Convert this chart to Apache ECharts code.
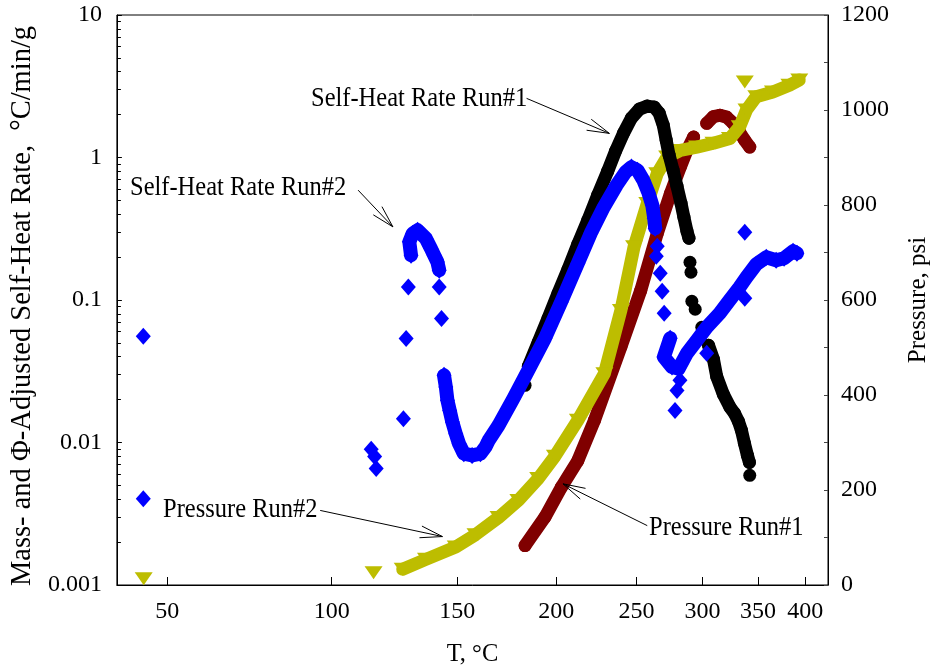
<!DOCTYPE html>
<html>
<head>
<meta charset="utf-8">
<script src="https://cdn.jsdelivr.net/npm/echarts@6/dist/echarts.min.js"></script>
<style>
  html, body { margin: 0; padding: 0; background: #ffffff; }
  #chart { width: 939px; height: 672px; }
</style>
</head>
<body>
<div id="chart"></div>
<script>
// ---- axis ticks ----
const tempTicks = [50, 100, 150, 200, 250, 300, 350, 400];          // °C
const tempRange = [37.25, 427.0];                                    // °C, x-axis extent
const rateDecades = [0.001, 0.01, 0.1, 1, 10];                       // °C/min/g
const pressureTicks = [0, 200, 400, 600, 800, 1000, 1200];           // psi

// ---- Self-Heat Rate Run#1 (black) ----
const shr1RiseT    = [184.7, 190.0, 195.4, 201.0, 206.7, 212.5, 218.5, 224.6, 230.9, 236.0, 241.3, 246.6, 252.1, 257.6, 262.6, 266.2, 269.2, 271.4, 273.6, 276.6, 279.6, 282.7, 285.0, 287.4, 289.0];
const shr1RiseRate = [0.0342, 0.0505, 0.0744, 0.1115, 0.1644, 0.2464, 0.3633, 0.544, 0.802, 1.109, 1.483, 1.890, 2.187, 2.296, 2.259, 2.050, 1.688, 1.324, 1.039, 0.815, 0.629, 0.478, 0.381, 0.304, 0.2715];
const shr1TailT    = [305.0, 309.2, 312.0, 317.8, 323.6, 327.8, 331.4, 334.2, 337.0, 339.8, 341.7];
const shr1TailRate = [0.0481, 0.0384, 0.0291, 0.0218, 0.01774, 0.01602, 0.01407, 0.01217, 0.00986, 0.00812, 0.00725];
const shr1DotT     = [183.0, 289.8, 290.6, 291.3, 294.0, 299.4, 342.0];
const shr1DotRate  = [0.0252, 0.184, 0.1566, 0.098, 0.0861, 0.0644, 0.00588];

// ---- Self-Heat Rate Run#2 (blue) ----
const shr2EarlyT    = [130.1, 129.4, 130.8, 132.8, 136.3, 138.4, 139.8, 141.2, 142.0];
const shr2EarlyRate = [0.206, 0.256, 0.293, 0.309, 0.270, 0.230, 0.206, 0.185, 0.162];
const shr2MainT     = [144.1, 144.9, 145.6, 146.6, 147.8, 149.3, 150.8, 153.0, 156.8, 160.7, 163.1, 164.7, 169.5, 177.0, 184.7, 193.7, 202.7, 212.5, 220.3, 228.4, 236.7, 242.6, 246.6, 250.7, 254.8, 258.3, 261.2, 262.6, 263.3];
const shr2MainRate  = [0.0296, 0.0245, 0.01977, 0.0168, 0.0139, 0.01154, 0.00981, 0.00835, 0.00812, 0.00835, 0.00929, 0.01035, 0.0132, 0.0204, 0.0321, 0.0539, 0.0964, 0.1812, 0.2943, 0.448, 0.6397, 0.7896, 0.856, 0.815, 0.6937, 0.571, 0.463, 0.3752, 0.3191];
const shr2LateT     = [274.4, 269.7, 275.8, 280.9, 287.4, 295.4, 303.5, 314.6, 323.3, 332.4, 338.9, 348.3, 358.2, 368.3, 376.6, 386.3, 390.6];
const shr2LateRate  = [0.0539, 0.0398, 0.0339, 0.033, 0.0423, 0.0522, 0.0644, 0.0807, 0.0996, 0.1229, 0.1445, 0.1783, 0.1996, 0.1902, 0.1965, 0.22, 0.213];
const shr2DotT      = [43.8, 43.8, 114.4, 115.7, 116.3, 127.0, 128.1, 129.0, 142.0, 143.0, 264.8, 264.1, 267.0, 268.4, 269.9, 281.9, 279.6, 278.1, 303.5, 337.3, 337.3];
const shr2DotRate   = [0.0556, 0.00403, 0.00895, 0.00799, 0.00658, 0.0147, 0.0536, 0.1235, 0.1235, 0.0741, 0.2384, 0.2029, 0.1541, 0.1152, 0.0807, 0.0273, 0.0232, 0.0168, 0.0423, 0.103, 0.299];

// ---- Pressure Run#1 (dark red, psi) ----
const p1RiseT = [183.0, 193.7, 202.9, 212.5, 222.6, 239.5, 253.0, 264.8, 274.6, 282.2, 287.4, 292.7];
const p1RiseP = [83, 143, 206, 262, 347, 501, 620, 740, 824, 880, 915, 943];
const p1ArcT  = [303.5, 309.2, 314.8, 320.7, 326.6, 332.6, 337.0, 342.0];
const p1ArcP  = [972, 986, 989, 985, 972, 953, 937, 922];

// ---- Pressure Run#2 (olive, psi) ----
const p2MainT = [126.7, 136.3, 149.3, 158.4, 169.5, 179.5, 190.0, 199.2, 212.5, 228.8, 239.5, 248.4, 257.6, 264.8, 272.1, 282.2, 295.4, 309.2, 323.6, 332.6, 338.9, 348.3, 364.9, 382.3, 393.2];
const p2MainP = [33, 54, 80, 106, 142, 178, 224, 271, 347, 445, 578, 712, 803, 866, 901, 915, 922, 930, 940, 965, 1000, 1028, 1038, 1052, 1063];
const p2DotT  = [43.9, 115.3, 337.3];
const p2DotP  = [13, 26, 1059];

// ---- drawing ----
const FONT = '"Liberation Serif", "Times New Roman", serif';
const BLACK = '#000000', BLUE = '#0000ff', MAROON = '#800000', OLIVE = '#bdbd00';

// Arrhenius-style temperature axis: plotted against -1000/T(K)
const toInvT = t => -1000 / (t + 273.15);
const fromInvT = u => -1000 / u - 273.15;

const pairs = (ts, vs) => ts.map((t, i) => [toInvT(t), vs[i]]);

const minorLogTicks = [];
for (let e = -3; e <= 0; e++) {
  for (let m = 2; m <= 9; m++) minorLogTicks.push(Math.log10(m) + e);
}

const markers = {
  circle:   { symbol: 'circle', symbolSize: 13, symbolRotate: 0, width: 13 },
  diamond:  { symbol: 'diamond', symbolSize: [15, 17], symbolRotate: 0, width: 14 },
  triangle: { symbol: 'triangle', symbolSize: [18, 13], symbolRotate: 180, width: 13 }
};

function trace(name, ts, vs, yAxisIndex, color, mk, z) {
  const m = markers[mk];
  return {
    name, type: 'line', yAxisIndex, z,
    data: pairs(ts, vs),
    symbol: m.symbol, symbolSize: m.symbolSize, symbolRotate: m.symbolRotate,
    showSymbol: true, showAllSymbol: true,
    itemStyle: { color },
    lineStyle: { color, width: m.width, cap: 'round', join: 'round' },
    emphasis: { disabled: true }, silent: true, clip: false
  };
}

function points(name, ts, vs, yAxisIndex, color, mk, z) {
  const m = markers[mk];
  return {
    name, type: 'scatter', yAxisIndex, z,
    data: pairs(ts, vs),
    symbol: m.symbol, symbolSize: m.symbolSize, symbolRotate: m.symbolRotate,
    itemStyle: { color, opacity: 1 },
    emphasis: { disabled: true }, silent: true, clip: false
  };
}

const labelText = { color: BLACK, fontFamily: FONT, fontSize: 24 };

const option = {
  animation: false,
  backgroundColor: '#ffffff',
  grid: { left: 115, right: 107, top: 15, bottom: 87, show: true, borderColor: BLACK, borderWidth: 1 },
  xAxis: {
    type: 'value',
    min: toInvT(tempRange[0]),
    max: toInvT(tempRange[1]),
    axisLine: { lineStyle: { color: BLACK, width: 1 } },
    axisTick: { inside: true, length: 8, customValues: tempTicks.map(toInvT), lineStyle: { color: BLACK } },
    axisLabel: Object.assign({ customValues: tempTicks.map(toInvT), margin: 15,
      formatter: v => String(Math.round(fromInvT(v))) }, labelText),
    splitLine: { show: false },
    name: 'T, °C', nameLocation: 'middle', nameGap: 57,
    nameTextStyle: { color: BLACK, fontFamily: FONT, fontSize: 24.5 }
  },
  yAxis: [
    {
      type: 'log', logBase: 10, min: rateDecades[0], max: rateDecades[rateDecades.length - 1],
      position: 'left',
      axisLine: { show: true, lineStyle: { color: BLACK, width: 1 } },
      axisTick: { inside: true, length: 5, lineStyle: { color: BLACK } },
      axisLabel: Object.assign({ margin: 15, formatter: v => {
        const e = Math.round(Math.log10(v));
        return e >= 0 ? String(Math.pow(10, e)) : Math.pow(10, e).toFixed(-e);
      } }, labelText),
      splitLine: { show: false },
      name: 'Mass- and Φ-Adjusted Self-Heat Rate,  °C/min/g',
      nameLocation: 'middle', nameGap: 78,
      nameTextStyle: { color: BLACK, fontFamily: FONT, fontSize: 28.5, padding: [0, 12, 0, 0] }
    },
    {
      type: 'value', min: pressureTicks[0], max: pressureTicks[pressureTicks.length - 1], interval: 100,
      position: 'right',
      axisLine: { show: true, lineStyle: { color: BLACK, width: 1 } },
      axisTick: { inside: true, length: 4, lineStyle: { color: '#444444' } },
      axisLabel: Object.assign({ margin: 13,
        formatter: v => (pressureTicks.indexOf(v) >= 0 ? String(v) : '') }, labelText),
      splitLine: { show: false },
      name: 'Pressure, psi', nameLocation: 'middle', nameGap: 78,
      nameTextStyle: { color: BLACK, fontFamily: FONT, fontSize: 25 }
    },
    {
      // minor ticks of the logarithmic rate axis (2..9 within each decade)
      type: 'value', min: Math.log10(rateDecades[0]), max: Math.log10(rateDecades[rateDecades.length - 1]),
      position: 'left',
      axisLine: { show: false },
      axisTick: { show: true, inside: true, length: 4, customValues: minorLogTicks, lineStyle: { color: BLACK } },
      axisLabel: { show: false },
      splitLine: { show: false }
    }
  ],
  series: [
    trace('Pressure Run#1', p1RiseT, p1RiseP, 1, MAROON, 'circle', 2),
    trace('Pressure Run#1', p1ArcT, p1ArcP, 1, MAROON, 'circle', 2),
    trace('Pressure Run#2', p2MainT, p2MainP, 1, OLIVE, 'triangle', 3),
    points('Pressure Run#2', p2DotT, p2DotP, 1, OLIVE, 'triangle', 3),
    trace('Self-Heat Rate Run#1', shr1RiseT, shr1RiseRate, 0, BLACK, 'circle', 4),
    trace('Self-Heat Rate Run#1', shr1TailT, shr1TailRate, 0, BLACK, 'circle', 4),
    points('Self-Heat Rate Run#1', shr1DotT, shr1DotRate, 0, BLACK, 'circle', 4),
    trace('Self-Heat Rate Run#2', shr2EarlyT, shr2EarlyRate, 0, BLUE, 'diamond', 5),
    trace('Self-Heat Rate Run#2', shr2MainT, shr2MainRate, 0, BLUE, 'diamond', 5),
    trace('Self-Heat Rate Run#2', shr2LateT, shr2LateRate, 0, BLUE, 'diamond', 5),
    points('Self-Heat Rate Run#2', shr2DotT, shr2DotRate, 0, BLUE, 'diamond', 5)
  ]
};

const chart = echarts.init(document.getElementById('chart'), null, { renderer: 'canvas' });
chart.setOption(option);

// ---- callouts: label text plus an open-headed arrow pointing at a curve ----
const callouts = [
  { text: 'Self-Heat Rate Run#1', x: 311, y: 99,  axis: 0, from: [183.8, 2.60],  to: [232.0, 1.476] },
  { text: 'Self-Heat Rate Run#2', x: 130, y: 188, axis: 0, from: [109.5, 0.590], to: [122.8, 0.326] },
  { text: 'Pressure Run#2',       x: 163, y: 510, axis: 1, from: [96.0, 157],    to: [143.4, 102] },
  { text: 'Pressure Run#1',       x: 649, y: 528, axis: 1, from: [257.6, 125],   to: [203.8, 213] }
];

const graphics = [];
callouts.forEach(c => {
  const finder = { xAxisIndex: 0, yAxisIndex: c.axis };
  const a = chart.convertToPixel(finder, [toInvT(c.from[0]), c.from[1]]);
  const b = chart.convertToPixel(finder, [toInvT(c.to[0]), c.to[1]]);
  const ang = Math.atan2(a[1] - b[1], a[0] - b[0]);
  const head = 23, spread = 15 * Math.PI / 180;
  const p1 = [b[0] + head * Math.cos(ang + spread), b[1] + head * Math.sin(ang + spread)];
  const p2 = [b[0] + head * Math.cos(ang - spread), b[1] + head * Math.sin(ang - spread)];
  graphics.push({
    type: 'polyline', silent: true, z: 10,
    shape: { points: [a, b] }, style: { stroke: BLACK, lineWidth: 1, fill: null }
  });
  graphics.push({
    type: 'polyline', silent: true, z: 10,
    shape: { points: [p1, b, p2] }, style: { stroke: BLACK, lineWidth: 1, fill: null }
  });
  graphics.push({
    type: 'text', silent: true, z: 10, x: c.x, y: c.y, scaleY: 1.12,
    style: { text: c.text, x: 0, y: 0, fill: BLACK, fontFamily: FONT, fontSize: 24.5,
             align: 'left', verticalAlign: 'middle' }
  });
});
chart.setOption({ graphic: graphics });
</script>
</body>
</html>
